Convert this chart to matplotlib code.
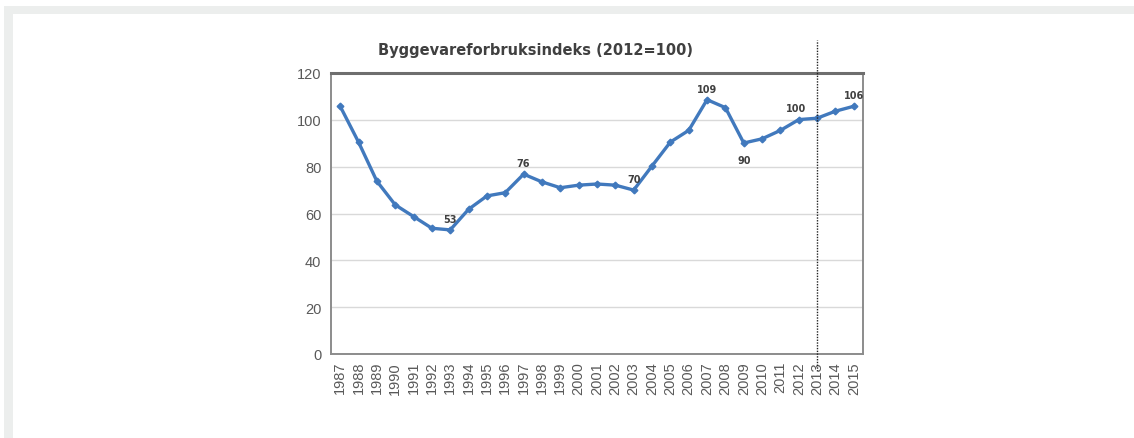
#Byggevareforbruksindeks 1987-2015 (2012=100)
import numpy as np
import matplotlib.pyplot as plt
from matplotlib.patches import Rectangle

#Data
years = [str(y) for y in range(1987, 2016)]
index_values = [105.8, 90.5, 73.8, 63.7, 58.7, 53.7, 53.0, 61.8, 67.5, 68.9,
                76.8, 73.5, 71.0, 72.1, 72.6, 72.1, 70.0, 80.3, 90.5, 95.5,
                108.6, 105.2, 90.1, 91.9, 95.5, 100.1, 100.7, 103.7, 105.8]
label_years = ['1993', '1997', '2003', '2007', '2009', '2012', '2015']
label_texts = ['53', '76', '70', '109', '90', '100', '106']
split_year = '2013'

fig = plt.figure(figsize=(11.34, 4.39), dpi=100)

#light gray frame strips (top and left) round the picture
fig.patches.append(Rectangle((4/1134, 1 - 15/439), 1 - 4/1134, 8/439, transform=fig.transFigure,
                             facecolor='#eceeed', edgecolor='none', zorder=-5))
fig.patches.append(Rectangle((4/1134, 0), 9/1134, 1 - 7/439, transform=fig.transFigure,
                             facecolor='#eceeed', edgecolor='none', zorder=-5))

ax = fig.add_axes([331/1134, 1 - 355/439, (863 - 331)/1134, (355 - 74)/439])
x = np.arange(len(years))
ax.plot(x, index_values, color='#4179bd', linewidth=2.4, marker='D', markersize=3.4,
        zorder=3)

ax.set_xlim(-0.5, len(years) - 0.5)
ax.set_ylim(0, 120)
ax.set_yticks(range(0, 121, 20))
ax.set_xticks(x)
ax.set_xticklabels(years, rotation=90, fontsize=10.5, color='#595959', family='Liberation Sans')
for t in ax.get_yticklabels():
    t.set_fontsize(10.5)
    t.set_color('#595959')
    t.set_family('Liberation Sans')
ax.tick_params(axis='x', length=0, pad=5)
ax.tick_params(axis='y', length=0, pad=7)
ax.yaxis.grid(True, color='#d9d9d9', linewidth=1)
ax.set_axisbelow(True)
for side in ['left', 'right', 'bottom']:
    ax.spines[side].set_color('#8c8c8c')
    ax.spines[side].set_linewidth(1.4)
ax.spines['top'].set_color('#6e6e6e')
ax.spines['top'].set_linewidth(2.2)

#value labels
for yr, txt in zip(label_years, label_texts):
    i = years.index(yr)
    v = index_values[i]
    dy = -12 if yr == '2009' else 8
    dx = -2 if yr == '2012' else 0
    ax.annotate(txt, (i, v), xytext=(dx, dy), textcoords='offset points',
                ha='center', va='center', fontsize=7, fontweight='bold',
                color='#404040', zorder=4)

#dotted split line
xi = years.index(split_year)
ax.axvline(xi, ymin=-0.06, ymax=1.118, color='#222222', linestyle=(0, (1, 1)), linewidth=1,
           clip_on=False, zorder=5)

fig.text(535/1134, 1 - 50/439, 'Byggevareforbruksindeks (2012=100)', ha='center',
         va='center', fontsize=10.5, fontweight='bold', color='#404040')

fig.savefig('out.png', dpi=100)
